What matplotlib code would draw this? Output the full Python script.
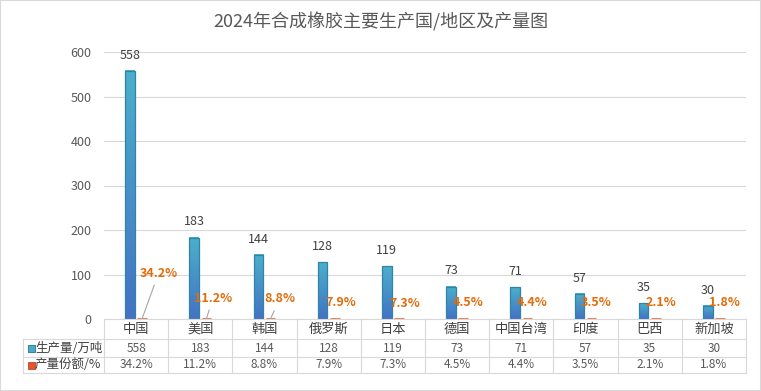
import numpy as np
import matplotlib
matplotlib.use("Agg")
import matplotlib.pyplot as plt
from matplotlib.patches import Rectangle
from matplotlib.lines import Line2D
from matplotlib.colors import LinearSegmentedColormap
from matplotlib.transforms import blended_transform_factory

plt.rcParams["font.family"] = ["Noto Sans CJK SC", "DejaVu Sans"]

# ------------------------------------------------------------------ #
# Data
# ------------------------------------------------------------------ #
regions = ["中国", "美国", "韩国", "俄罗斯", "日本", "德国", "中国台湾", "印度", "巴西", "新加坡"]
output_wt = [558, 183, 144, 128, 119, 73, 71, 57, 35, 30]          # 万吨
share_pct = [34.2, 11.2, 8.8, 7.9, 7.3, 4.5, 4.4, 3.5, 2.1, 1.8]    # %
series_names = ["生产量/万吨", "产量份额/%"]
title = "2024年合成橡胶主要生产国/地区及产量图"

W, H = 761, 391
fig = plt.figure(figsize=(W / 100, H / 100), dpi=100)

def fx(px):
    return px / W

def fy(py):
    return 1 - py / H

# plot area in pixels
L, R, T, B = 104, 746, 52, 319
ax = fig.add_axes([fx(L), fy(B), fx(R) - fx(L), fy(T) - fy(B)])

n = len(regions)
x = np.arange(n)
bw = 0.15
off = 0.095

blue_cmap = LinearSegmentedColormap.from_list("bl", ["#4472C4", "#4BAFCB"])
grad = np.linspace(0, 1, 64).reshape(-1, 1)

for i, v in enumerate(output_wt):
    x0 = x[i] - off - bw / 2
    ax.imshow(grad, cmap=blue_cmap, origin="lower", aspect="auto",
              extent=[x0, x0 + bw, 0, v], zorder=2)
    ax.add_patch(Rectangle((x0, 0), bw, v, facecolor="none",
                           edgecolor="#2F85A6", linewidth=0.9, zorder=3))
    ax.text(x[i] - off, v + 35, str(v), ha="center", va="center",
            fontsize=9, color="#404040", zorder=4)

share_frac = [s / 100 for s in share_pct]
ax.bar(x + off, share_frac, bw, color="#E9531D", edgecolor="#E2541C",
       linewidth=1.8, zorder=3)

# share labels (first three moved, with leader lines)
lab_dx = [0.35, 0.20, 0.24, 0.18, 0.19, 0.17, 0.17, 0.17, 0.17, 0.17]
lab_y = [103, 47, 45, 36, 34, 36, 36, 36, 36, 36]
for i, s in enumerate(share_pct):
    txt = f"{s}%"
    if i < 3:
        ax.annotate(txt, xy=(x[i] + off, share_frac[i] + 1),
                    xytext=(x[i] + lab_dx[i], lab_y[i]),
                    ha="center", va="center", fontsize=9, fontweight="bold",
                    color="#E36C0A", zorder=4,
                    arrowprops=dict(arrowstyle="-", color="#A6A6A6", lw=0.8,
                                    shrinkA=2, shrinkB=0))
    else:
        ax.text(x[i] + lab_dx[i], lab_y[i], txt, ha="center", va="center",
                fontsize=9, fontweight="bold", color="#E36C0A", zorder=4)

ax.set_xlim(-0.5, n - 0.5)
ax.set_ylim(0, 600)
ax.set_yticks(np.arange(0, 601, 100))
ax.set_xticks([])
ax.tick_params(axis="y", length=0, labelsize=9, labelcolor="#595959", pad=9)
ax.grid(axis="y", color="#D9D9D9", linewidth=0.8, zorder=0)
ax.set_axisbelow(True)
for sp in ax.spines.values():
    sp.set_visible(False)

# ------------------------------------------------------------------ #
# Data table
# ------------------------------------------------------------------ #
grid_c = "#D9D9D9"
TL = 23
rows = [319, 339, 357, 373]
for r in rows:
    x_start = L if r == rows[0] else TL
    fig.add_artist(Line2D([fx(x_start), fx(R)], [fy(r), fy(r)], color=grid_c, lw=0.8))
col_w = (R - L) / n
for k in range(n + 1):
    xx = L + k * col_w
    fig.add_artist(Line2D([fx(xx), fx(xx)], [fy(rows[0]), fy(rows[-1])], color=grid_c, lw=0.8))
fig.add_artist(Line2D([fx(TL), fx(TL)], [fy(rows[1]), fy(rows[-1])], color=grid_c, lw=0.8))

tr = blended_transform_factory(ax.transData, fig.transFigure)
row_mid = [(rows[j] + rows[j + 1]) / 2 for j in range(3)]
for i in range(n):
    fig.text(x[i], fy(row_mid[0]), regions[i], transform=tr, ha="center", va="center",
             fontsize=9.5, color="#404040")
    fig.text(x[i], fy(row_mid[1]), str(output_wt[i]), transform=tr, ha="center",
             va="center", fontsize=8.5, color="#595959")
    fig.text(x[i], fy(row_mid[2]), f"{share_pct[i]}%", transform=tr, ha="center",
             va="center", fontsize=8.5, color="#595959")

# legend keys in table
key_cols = [("#4BACC6", "#2F85A6"), ("#E9531D", "#C0504D")]
for j, (name, (fc, ec)) in enumerate(zip(series_names, key_cols)):
    ym = row_mid[j + 1]
    fig.add_artist(Rectangle((fx(28), fy(ym + 3.5)), fx(6.5), fy(0) - fy(7),
                             facecolor=fc, edgecolor=ec, lw=0.7))
    fig.text(fx(35), fy(ym), name, ha="left", va="center", fontsize=9, color="#404040")

fig.text(0.5, fy(22), title, ha="center", va="center", fontsize=13, color="#595959")

fig.add_artist(Rectangle((0, 0), 1, 1, facecolor="none", edgecolor="#D9D9D9",
                         lw=1.5, transform=fig.transFigure))

fig.savefig("out.png", dpi=100)
